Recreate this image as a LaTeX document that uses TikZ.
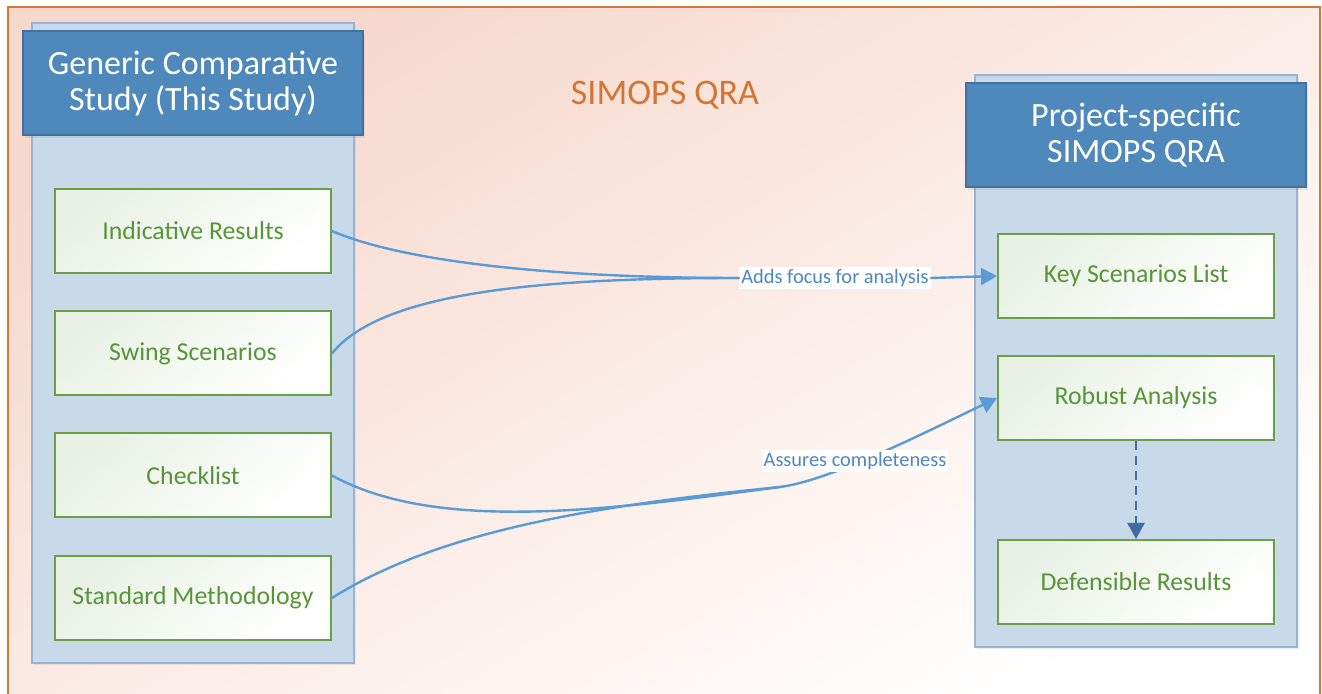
\documentclass[tikz,border=0pt]{standalone}
\usepackage{fontspec}
\setmainfont{Carlito}
\usetikzlibrary{arrows.meta,shadows}
\tikzstyle{diagram} = [x = 0.5pt, y = -0.5pt]
\definecolor{frameColor}{RGB}{214,118,52}
\definecolor{bgColor}{RGB}{247,216,204}
\definecolor{panelColor}{RGB}{200,218,234}
\definecolor{panelEdge}{RGB}{152,180,210}
\definecolor{headerColor}{RGB}{79,137,188}
\definecolor{headerEdge}{RGB}{65,113,158}
\definecolor{itemEdge}{RGB}{106,160,68}
\definecolor{itemText}{RGB}{88,148,56}
\definecolor{itemTint}{RGB}{232,241,228}
\definecolor{flowColor}{RGB}{91,155,213}
\definecolor{flowTextColor}{RGB}{78,134,196}
\definecolor{titleColor}{RGB}{214,116,50}
\definecolor{stepColor}{RGB}{64,108,158}
\tikzstyle{backgroundStyle} = [draw = frameColor, line width = 1pt, top color = bgColor, middle color = bgColor!35!white, bottom color = white, shading angle = 30]
\tikzstyle{titleStyle} = [text = titleColor, font = \fontsize{18}{21}\selectfont]
\tikzstyle{panelStyle} = [draw = panelEdge, fill = panelColor, line width = 1pt, minimum width = 161pt, drop shadow = {opacity = .12, shadow xshift = .8pt, shadow yshift = -1.2pt}]
\tikzstyle{headerStyle} = [draw = headerEdge, fill = headerColor, line width = .8pt, minimum width = 170pt, minimum height = 52pt, text = white, align = center, font = \fontsize{17}{18}\selectfont, drop shadow = {opacity = .15, shadow xshift = .8pt, shadow yshift = -1.5pt}]
\tikzstyle{itemStyle} = [draw = itemEdge, line width = 1pt, top color = itemTint, middle color = white, bottom color = white, shading angle = 40, minimum width = 138pt, minimum height = 42pt, text = itemText, font = \fontsize{12.9}{15}\selectfont]
\tikzstyle{flowLine} = [draw = flowColor, line width = 1.2pt, line cap = round]
\tikzstyle{flowArrow} = [flowLine, -{Triangle[width = 8.5pt, length = 8pt]}]
\tikzstyle{flowText} = [fill = white, text = flowTextColor, inner sep = 1pt, font = \fontsize{10.2}{12}\selectfont]
\tikzstyle{stepArrow} = [draw = stepColor, line width = 1.2pt, dash pattern = on 4.5pt off 3pt, -{Triangle[width = 8.5pt, length = 8pt]}]
\newcommand{\columnPanel}[4]{\node [panelStyle, minimum height = #4] (#1) at (#2, #3) {};}
\newcommand{\columnHeader}[4]{\node [headerStyle] (#1) at (#2, #3) {#4};}
\newcommand{\itemBox}[4]{\node [itemStyle] (#1) at (#2, #3) {#4};}

\begin{document}
\begin{tikzpicture}[diagram]
  \useasboundingbox (0,0) rectangle (1322,694);
  \draw [backgroundStyle] (8,7) rectangle (1320,720);
  \node [titleStyle] (title) at (665,95) {SIMOPS QRA};

  \columnPanel{genericPanel}{193}{343}{320pt}
  \columnHeader{genericHeader}{193}{83}{Generic Comparative\\Study (This Study)}
  \itemBox{indicative}{193}{231}{Indicative Results}
  \itemBox{swing}{193}{353.5}{Swing Scenarios}
  \itemBox{checklist}{193}{475.5}{Checklist}
  \itemBox{methodology}{193}{598}{Standard Methodology}

  \columnPanel{projectPanel}{1136}{361}{286pt}
  \columnHeader{projectHeader}{1136}{135}{Project-specific\\SIMOPS QRA}
  \itemBox{keyScenarios}{1136}{276}{Key Scenarios List}
  \itemBox{robust}{1136}{398}{Robust Analysis}
  \itemBox{defensible}{1136}{582}{Defensible Results}

  \node [flowText] (focus) at (835,278) {Adds focus for analysis};
  \coordinate (assureJoin) at (780,487);
  \draw [flowLine] (indicative.east) .. controls +(69,30) and +(-190,0) .. (focus.west);
  \draw [flowLine] (swing.east) .. controls +(50,-63) and +(-190,0) .. (focus.west);
  \draw [flowArrow] (focus.east) -- (keyScenarios.west);
  \draw [flowLine] (checklist.east) .. controls (440,535) and (620,508) .. (assureJoin);
  \draw [flowLine] (methodology.east) .. controls (440,530) and (600,505) .. (assureJoin);
  \draw [flowArrow] (assureJoin) .. controls (830,480.4) and (920,435) .. (robust.west);
  \draw [stepArrow] (robust.south) -- (defensible.north);
  \node [flowText] (assure) at (855,461) {Assures completeness};
\end{tikzpicture}
\end{document}
